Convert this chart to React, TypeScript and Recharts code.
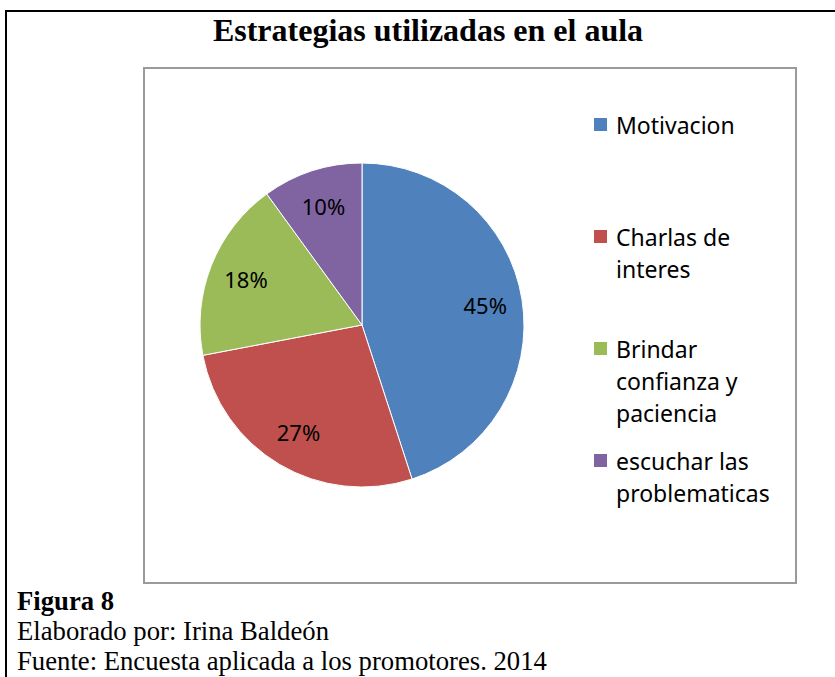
import { Cell, Legend, Pie, PieChart } from "recharts";

const categories = [
  "Motivacion",
  "Charlas de interes",
  "Brindar confianza y paciencia",
  "escuchar las problematicas"
];
const shares = [45, 27, 18, 10];
const colors = ["#4F81BD", "#C0504D", "#9BBB59", "#8064A2"];

const data = categories.map((name, i) => ({ name, value: shares[i] }));

const RAD = Math.PI / 180;
const serif = "'Liberation Serif', 'Times New Roman', serif";

function renderLabel(props: any) {
  const { cx, cy, midAngle, outerRadius, value } = props;
  const r = outerRadius * 0.77;
  const x = cx + r * Math.cos(-midAngle * RAD);
  const y = cy + r * Math.sin(-midAngle * RAD);
  return (
    <text
      x={x}
      y={y}
      fill="#000"
      textAnchor="middle"
      dominantBaseline="central"
      fontFamily="'Noto Sans', sans-serif"
      fontSize={22}
    >
      {value}%
    </text>
  );
}

// legend keeps the series order (recharts sorts the payload by name otherwise)
function LegendBox() {
  return (
    <div style={{ fontFamily: "'Noto Sans', sans-serif", fontSize: 23, lineHeight: "32px", color: "#000" }}>
      {categories.map((name, i) => (
        <div key={name} style={{ display: "flex", alignItems: "flex-start", height: 112 }}>
          <span
            style={{
              width: 13,
              height: 13,
              marginTop: 9,
              marginRight: 9,
              flex: "none",
              background: colors[i]
            }}
          />
          <span style={{ width: 178 }}>{name}</span>
        </div>
      ))}
    </div>
  );
}

export default function App() {
  return (
    <div
      style={{
        position: "absolute",
        left: 0,
        top: 0,
        width: 835,
        height: 677,
        overflow: "hidden",
        background: "#fff"
      }}
    >
      <div
        style={{
          position: "absolute",
          left: 5,
          top: 10,
          width: 840,
          height: 700,
          borderTop: "2px solid #000",
          borderLeft: "2px solid #000"
        }}
      />
      <div
        style={{
          position: "absolute",
          left: 428,
          top: 11,
          transform: "translateX(-50%)",
          whiteSpace: "nowrap",
          fontFamily: serif,
          fontWeight: "bold",
          fontSize: 32,
          lineHeight: "38px"
        }}
      >
        Estrategias utilizadas en el aula
      </div>
      <div
        style={{
          position: "absolute",
          left: 143,
          top: 67,
          width: 654,
          height: 517,
          boxSizing: "border-box",
          border: "2px solid #9a9a9a"
        }}
      />
      <div style={{ position: "absolute", left: 0, top: 0 }}>
        <PieChart width={835} height={677}>
          <Pie
            data={data}
            dataKey="value"
            nameKey="name"
            cx={357}
            cy={320}
            outerRadius={162}
            startAngle={90}
            endAngle={-270}
            stroke="#ffffff"
            strokeWidth={1}
            label={renderLabel}
            labelLine={false}
            isAnimationActive={false}
          >
            {data.map((d, i) => (
              <Cell key={d.name} fill={colors[i]} />
            ))}
          </Pie>
          <Legend
            content={<LegendBox />}
            wrapperStyle={{ position: "absolute", left: 594, top: 109, width: 200, bottom: "auto", right: "auto" }}
          />
        </PieChart>
      </div>
      <div
        style={{
          position: "absolute",
          left: 17,
          top: 586,
          fontFamily: serif,
          fontSize: 26.7,
          lineHeight: "30px",
          whiteSpace: "nowrap"
        }}
      >
        <div style={{ fontWeight: "bold" }}>Figura 8</div>
        <div>Elaborado por: Irina Baldeón</div>
        <div>Fuente: Encuesta aplicada a los promotores. 2014</div>
      </div>
    </div>
  );
}
